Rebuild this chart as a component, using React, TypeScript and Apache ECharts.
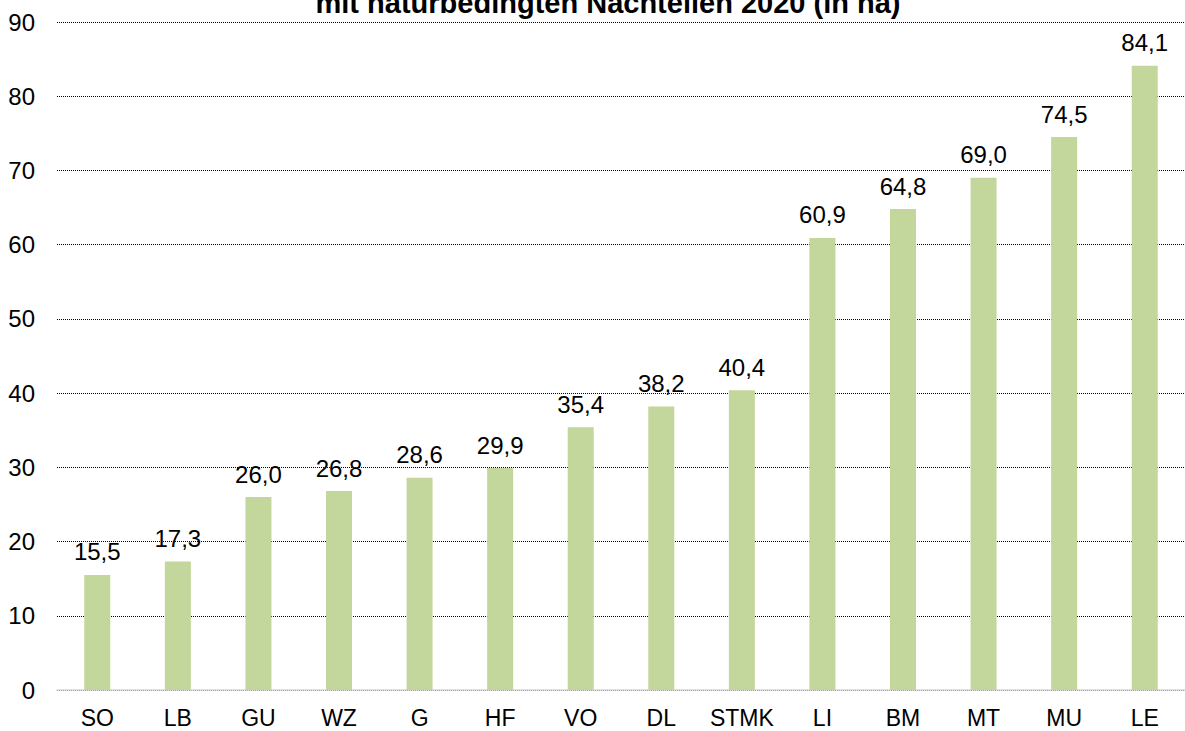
import React, { useEffect, useRef } from "react";
import * as echarts from "echarts";

const categories = ["SO", "LB", "GU", "WZ", "G", "HF", "VO", "DL", "STMK", "LI", "BM", "MT", "MU", "LE"];
const values = [15.5, 17.3, 26.0, 26.8, 28.6, 29.9, 35.4, 38.2, 40.4, 60.9, 64.8, 69.0, 74.5, 84.1];
const titleText = "mit naturbedingten Nachteilen 2020 (in ha)";

export default function App() {
  const ref = useRef<HTMLDivElement>(null);
  useEffect(() => {
    const chart = echarts.init(ref.current!, null, { renderer: "svg" });
    chart.setOption({
      animation: false,
      textStyle: { fontFamily: "Liberation Sans, Arial, sans-serif" },
      graphic: [
        {
          type: "text",
          x: 608,
          y: 3,
          style: {
            text: titleText,
            fontSize: 29,
            fontWeight: "bold",
            fill: "#000",
            align: "center",
            verticalAlign: "middle",
            fontFamily: "Liberation Sans, Arial, sans-serif",
          },
        },
      ],
      grid: { left: 57, right: 0, top: 22, bottom: 41, containLabel: false, outerBoundsMode: "none" },
      xAxis: {
        type: "category",
        data: categories,
        axisLine: { show: true, lineStyle: { color: "#d9d9d9", width: 1.5 } },
        axisTick: { show: false },
        axisLabel: { color: "#000", fontSize: 23, margin: 16, interval: 0 },
      },
      yAxis: {
        type: "value",
        min: 0,
        max: 90,
        interval: 10,
        axisLine: { show: false },
        axisTick: { show: false },
        axisLabel: { color: "#000", fontSize: 24, margin: 22 },
        splitLine: { show: true, lineStyle: { color: "#000", type: [1, 1], width: 1 } },
      },
      series: [
        {
          type: "bar",
          data: values,
          barWidth: 26,
          itemStyle: { color: "#c3d69b" },
          label: {
            show: true,
            position: "top",
            distance: 11,
            color: "#000",
            fontSize: 24,
            formatter: (p: any) => p.value.toFixed(1).replace(".", ","),
          },
        },
      ],
    });
    return () => chart.dispose();
  }, []);
  return (
    <div
      ref={ref}
      style={{ position: "fixed", left: 0, top: 0, width: 1185, height: 731, background: "#fff" }}
    />
  );
}
